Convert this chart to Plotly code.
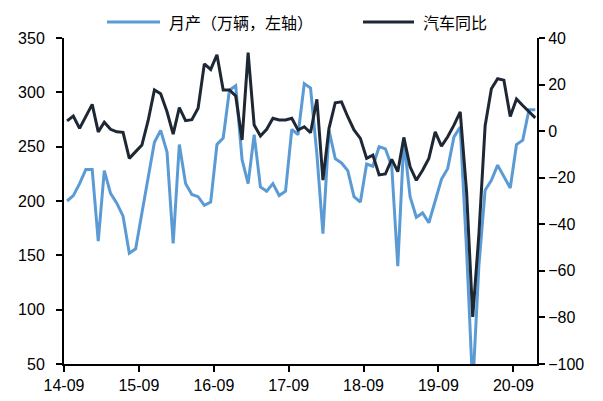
import pandas as pd
import plotly.graph_objects as go

# Monthly vehicle output (10k units) and year-on-year change (%), Sep 2014 - Dec 2020
production = [
    200, 205, 216, 229, 229, 163, 228, 207, 198, 186, 152, 156,   # 14-09 .. 15-08
    189, 221, 254, 265, 245, 161, 252, 216, 206, 204, 196, 199,   # 15-09 .. 16-08
    252, 258, 302, 306, 238, 216, 261, 213, 209, 216, 205, 209,   # 16-09 .. 17-08
    266, 261, 308, 304, 243, 170, 265, 239, 235, 228, 204, 199,   # 17-09 .. 18-08
    234, 232, 250, 248, 232, 140, 256, 204, 185, 189, 180, 200,   # 18-09 .. 19-08
    220, 230, 259, 268, 155, 28.5, 140, 210, 219, 233, 222, 212,  # 19-09 .. 20-08
    252, 256, 284, 284,                                           # 20-09 .. 20-12
]
yoy = [
    4.4, 6.5, 1.2, 6.2, 11.5, -0.3, 3.8, 0.8, -0.3, -0.5, -11.7, -8.8,
    -6.0, 4.6, 17.7, 16.1, 8.3, -1.3, 10.1, 4.5, 4.9, 9.8, 28.9, 26.5,
    32.8, 17.7, 17.7, 15.1, -3.8, 33.7, 2.6, -2.1, 0.8, 5.5, 4.8, 4.8,
    5.5, 0.5, 1.9, -0.7, 13.7, -21.0, 1.2, 12.2, 12.6, 6.2, 0.5, -3.1,
    -11.7, -10.3, -18.8, -18.4, -12.1, -17.4, -2.7, -15.3, -21.1, -16.8, -11.7, -0.3,
    -6.4, -2.4, 2.6, 8.3, -26.0, -79.8, -44.5, 2.3, 18.2, 22.5, 21.9, 6.3,
    13.8, 11.0, 8.5, 5.7,
]
months = pd.date_range("2014-09-01", periods=len(production), freq="MS")

series_names = ["月产（万辆，左轴）", "汽车同比"]
left_ticks = [50, 100, 150, 200, 250, 300, 350]
right_ticks = [-100, -80, -60, -40, -20, 0, 20, 40]

BLUE = "#5b9bd5"
DARK = "#1e2734"
W, H = 603, 401
ML, MR, MT, MB = 64, 66, 38, 37
PW, PH = W - ML - MR, H - MT - MB


def px(x):
    return (x - ML) / PW


def py(y):
    return (H - MB - y) / PH


fig = go.Figure()
fig.add_trace(go.Scatter(
    x=months, y=production, mode="lines", name=series_names[0],
    xperiod="M1", xperiodalignment="middle",
    line=dict(color=BLUE, width=3), showlegend=False,
))
fig.add_trace(go.Scatter(
    x=months, y=yoy, mode="lines", name=series_names[1], yaxis="y2",
    xperiod="M1", xperiodalignment="middle",
    line=dict(color=DARK, width=3), showlegend=False,
))

tick_font = dict(family="Liberation Sans, Arial, sans-serif", size=16, color="#000")
axis_common = dict(
    showline=True, linecolor="#000", linewidth=2,
    ticks="outside", ticklen=6, tickwidth=2, tickcolor="#000",
    showgrid=False, zeroline=False, tickfont=tick_font, automargin=False,
)

fig.update_layout(
    width=W, height=H,
    margin=dict(l=ML, r=MR, t=MT, b=MB, autoexpand=False),
    paper_bgcolor="#fff", plot_bgcolor="#fff",
    xaxis=dict(
        type="date", range=["2014-09-01", "2020-12-25"],
        tick0="2014-09-01", dtick="M12", tickformat="%y-%m",
        **axis_common,
    ),
    yaxis=dict(range=[50, 350], tickvals=left_ticks, ticklabelstandoff=8,
               **axis_common),
    yaxis2=dict(
        range=[-100, 40], tickvals=right_ticks, overlaying="y", side="right",
        **axis_common,
    ),
)

# Legend drawn as line samples with labels above the plot
legend_font = dict(family="Noto Sans CJK SC, sans-serif", size=16, color="#000")
legend_items = [
    (series_names[0], BLUE, 107, 160, 167),
    (series_names[1], DARK, 363, 414, 421),
]
for label, color, x0, x1, tx in legend_items:
    fig.add_shape(type="line", xref="paper", yref="paper",
                  x0=px(x0), x1=px(x1), y0=py(22), y1=py(22),
                  line=dict(color=color, width=3))
    fig.add_annotation(text=label, xref="paper", yref="paper",
                       x=px(tx), y=py(22), xanchor="left", yanchor="middle",
                       showarrow=False, font=legend_font)

fig.write_html("out.html")
